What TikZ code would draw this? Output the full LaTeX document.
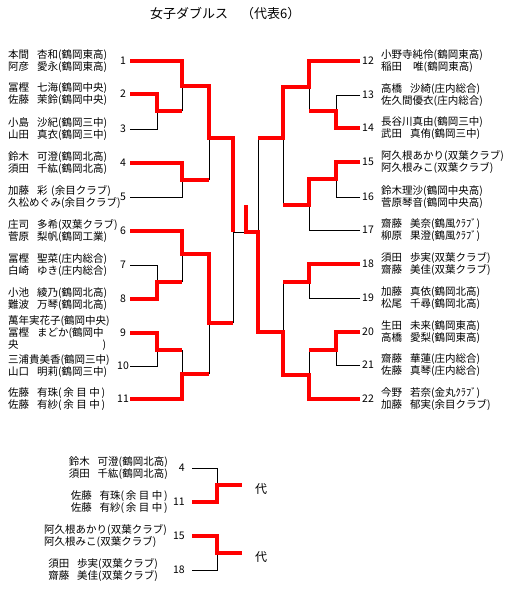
\documentclass[tikz,border=0pt]{standalone}
\usepackage{fontspec}
\setmainfont{Noto Sans CJK JP}
\newcommand{\zs}{\hspace{0.75em}}
\newcommand{\ym}{(\,余\hspace{2.5pt}目\hspace{2.5pt}中\,)}
\begin{document}
\begin{tikzpicture}[x=1pt,y=-1pt,
  win/.style={draw=red, line width=4pt, line join=miter},
  lose/.style={draw=black, line width=1pt},
  nm/.style={font=\fontsize{10.5}{12}\selectfont, inner sep=0pt, align=left},
  num/.style={font=\fontsize{10.5}{12}\selectfont, inner sep=0pt},
  ttl/.style={font=\fontsize{13}{15}\selectfont, inner sep=0pt},
  dai/.style={font=\fontsize{12}{14}\selectfont, inner sep=0pt}]
\fill[white] (0,0) rectangle (504,592);
\useasboundingbox (0,0) rectangle (504,592);

\node[ttl, anchor=west] (title) at (150,14) {女子ダブルス　（代表6）};

% left names
\node[nm, anchor=west] (p1) at (8,61) {本間\zs{}杏和(鶴岡東高)\\阿彦\zs{}愛永(鶴岡東高)};
\node[nm, anchor=west] (p2) at (8,94) {冨樫\zs{}七海(鶴岡中央)\\佐藤\zs{}茉鈴(鶴岡中央)};
\node[nm, anchor=west] (p3) at (8,129) {小島\zs{}沙紀(鶴岡三中)\\山田\zs{}真衣(鶴岡三中)};
\node[nm, anchor=west] (p4) at (8,163) {鈴木\zs{}可澄(鶴岡北高)\\須田\zs{}千紘(鶴岡北高)};
\node[nm, anchor=west] (p5) at (8,197) {加藤\zs{}彩\hspace{0.35em}(余目クラブ)\\久松めぐみ(余目クラブ)};
\node[nm, anchor=west] (p6) at (8,231) {庄司\zs{}多希(双葉クラブ)\\菅原\zs{}梨帆(鶴岡工業)};
\node[nm, anchor=west] (p7) at (8,265) {冨樫\zs{}聖菜(庄内総合)\\白崎\zs{}ゆき(庄内総合)};
\node[nm, anchor=west] (p8) at (8,299) {小池\zs{}綾乃(鶴岡北高)\\難波\zs{}万琴(鶴岡北高)};
\node[nm, anchor=west] (p9) at (8,333) {萬年実花子(鶴岡中央)\\冨樫\zs{}まどか(鶴岡中\\央\hspace{84pt})};
\node[nm, anchor=west] (p10) at (8,366) {三浦貴美香(鶴岡三中)\\山口\zs{}明莉(鶴岡三中)};
\node[nm, anchor=west] (p11) at (8,399) {佐藤\zs{}有珠\ym\\佐藤\zs{}有紗\ym};

% right names
\node[nm, anchor=west] (p12) at (381,61) {小野寺純伶(鶴岡東高)\\稲田\zs\hspace{0.3em}唯(鶴岡東高)};
\node[nm, anchor=west] (p13) at (381,95) {高橋\zs{}沙綺(庄内総合)\\佐久間優衣(庄内総合)};
\node[nm, anchor=west] (p14) at (381,128) {長谷川真由(鶴岡三中)\\武田\zs{}真侑(鶴岡三中)};
\node[nm, anchor=west] (p15) at (381,162) {阿久根あかり(双葉クラブ)\\阿久根みこ(双葉クラブ)};
\node[nm, anchor=west] (p16) at (381,197) {鈴木理沙(鶴岡中央高)\\菅原琴音(鶴岡中央高)};
\node[nm, anchor=west] (p17) at (381,230) {齋藤\zs{}美奈(鶴風ｸﾗﾌﾞ)\\柳原\zs{}果澄(鶴風ｸﾗﾌﾞ)};
\node[nm, anchor=west] (p18) at (381,264) {須田\zs{}歩実(双葉クラブ)\\齋藤\zs{}美佳(双葉クラブ)};
\node[nm, anchor=west] (p19) at (381,298) {加藤\zs{}真依(鶴岡北高)\\松尾\zs{}千尋(鶴岡北高)};
\node[nm, anchor=west] (p20) at (381,332) {生田\zs{}未来(鶴岡東高)\\高橋\zs{}愛梨(鶴岡東高)};
\node[nm, anchor=west] (p21) at (381,365) {齋藤\zs{}華蓮(庄内総合)\\佐藤\zs{}真琴(庄内総合)};
\node[nm, anchor=west] (p22) at (381,399) {今野\zs{}若奈(金丸ｸﾗﾌﾞ)\\加藤\zs{}郁実(余目クラブ)};

% numbers
\foreach \i/\y in {1/61,2/94,3/129,4/163,5/197,6/231,7/265,8/299,9/333,10/366,11/399}
  \node[num] (n\i) at (123,\y) {\i};
\foreach \i/\y in {12/61,13/95,14/128,15/162,16/197,17/230,18/264,19/298,20/332,21/365,22/399}
  \node[num, anchor=west] (n\i) at (362,\y) {\i};

% seed line ends
\foreach \i/\y in {1/61,2/94,3/129,4/163,5/197,6/231,7/265,8/299,9/333,10/366,11/399}
  \coordinate (s\i) at (130,\y);
\foreach \i/\y in {12/61,13/95,14/128,15/162,16/197,17/230,18/264,19/298,20/332,21/365,22/399}
  \coordinate (s\i) at (360,\y);

% match points
\coordinate (mA) at (157,111);
\coordinate (mB) at (182,86);
\coordinate (mC) at (182,180);
\coordinate (mD) at (209,138);
\coordinate (mE) at (157,282);
\coordinate (mF) at (182,254);
\coordinate (mG) at (157,350);
\coordinate (mH) at (182,374);
\coordinate (mI) at (209,323);
\coordinate (mJ) at (233,232);
\coordinate (mK) at (336,111);
\coordinate (mL) at (309,87);
\coordinate (mM) at (336,179);
\coordinate (mN) at (309,205);
\coordinate (mO) at (283,138);
\coordinate (mP) at (309,282);
\coordinate (mQ) at (336,350);
\coordinate (mR) at (309,375);
\coordinate (mS) at (283,332);
\coordinate (mT) at (258,232);
\coordinate (fin) at (246,232);
\coordinate (champ) at (246,205);

% losing lines
\draw[lose] (s3) -| (mA);
\draw[lose] (mA -| mB) -- (mB);
\draw[lose] (s5) -| (mC);
\draw[lose] (mC -| mD) -- (mD);
\draw[lose] (s7) -| (mE);
\draw[lose] (mE -| mF) -- (mF);
\draw[lose] (s10) -| (mG);
\draw[lose] (mG -| mH) -- (mH);
\draw[lose] (mH -| mI) -- (mI);
\draw[lose] (mI -| mJ) -- (mJ);
\draw[lose] (mJ) -- (fin);
\draw[lose] (s13) -| (mK);
\draw[lose] (mK -| mL) -- (mL);
\draw[lose] (s16) -| (mM);
\draw[lose] (s17) -| (mN);
\draw[lose] (mN -| mO) -- (mO);
\draw[lose] (mO -| mT) -- (mT);
\draw[lose] (s19) -| (mP);
\draw[lose] (mP -| mS) -- (mS);
\draw[lose] (s21) -| (mQ);
\draw[lose] (mQ -| mR) -- (mR);

% winning lines
\draw[win] (s1) -| (mB) -| (mD) -| (mJ);
\draw[win] (s2) -| (mA) -- (mA -| mB);
\draw[win] (s4) -| (mC) -- (mC -| mD);
\draw[win] (s6) -| (mF) -| (mI) -- (mI -| mJ);
\draw[win] (s8) -| (mE) -- (mE -| mF);
\draw[win] (s9) -| (mG) -- (mG -| mH);
\draw[win] (s11) -| (mH) -- (mH -| mI);
\draw[win] (s12) -| (mL) -| (mO) -- (mO -| mT);
\draw[win] (s14) -| (mK) -- (mK -| mL);
\draw[win] (s15) -| (mM) -| (mN) -- (mN -| mO);
\draw[win] (s18) -| (mP) -- (mP -| mS);
\draw[win] (s20) -| (mQ) -- (mQ -| mR);
\draw[win] (s22) -| (mR) -| (mS) -| (mT) -- (fin) -- (champ);

% representative playoff
\node[nm, anchor=east] (q4) at (168,468) {鈴木\zs{}可澄(鶴岡北高)\\須田\zs{}千紘(鶴岡北高)};
\node[nm, anchor=east] (q11) at (168,502) {佐藤\zs{}有珠\ym\\佐藤\zs{}有紗\ym};
\node[nm, anchor=east] (q15) at (167,536) {阿久根あかり(双葉クラブ)\\阿久根みこ(双葉クラブ)};
\node[nm, anchor=east] (q18) at (158,570) {須田\zs{}歩実(双葉クラブ)\\齋藤\zs{}美佳(双葉クラブ)};
\node[num, anchor=east] (r4) at (185,468) {4};
\node[num, anchor=east] (r11) at (185,502) {11};
\node[num, anchor=east] (r15) at (185,536) {15};
\node[num, anchor=east] (r18) at (185,570) {18};
\coordinate (b4) at (192,468);
\coordinate (b11) at (192,502);
\coordinate (b15) at (192,536);
\coordinate (b18) at (192,570);
\coordinate (mU) at (217,485);
\coordinate (oU) at (242,485);
\coordinate (mV) at (217,553);
\coordinate (oV) at (242,553);
\draw[lose] (b4) -| (mU);
\draw[lose] (b18) -| (mV);
\draw[win] (b11) -| (mU) -- (oU);
\draw[win] (b15) -| (mV) -- (oV);
\node[dai, anchor=west] (d1) at (255,489) {代};
\node[dai, anchor=west] (d2) at (255,557) {代};
\end{tikzpicture}
\end{document}
